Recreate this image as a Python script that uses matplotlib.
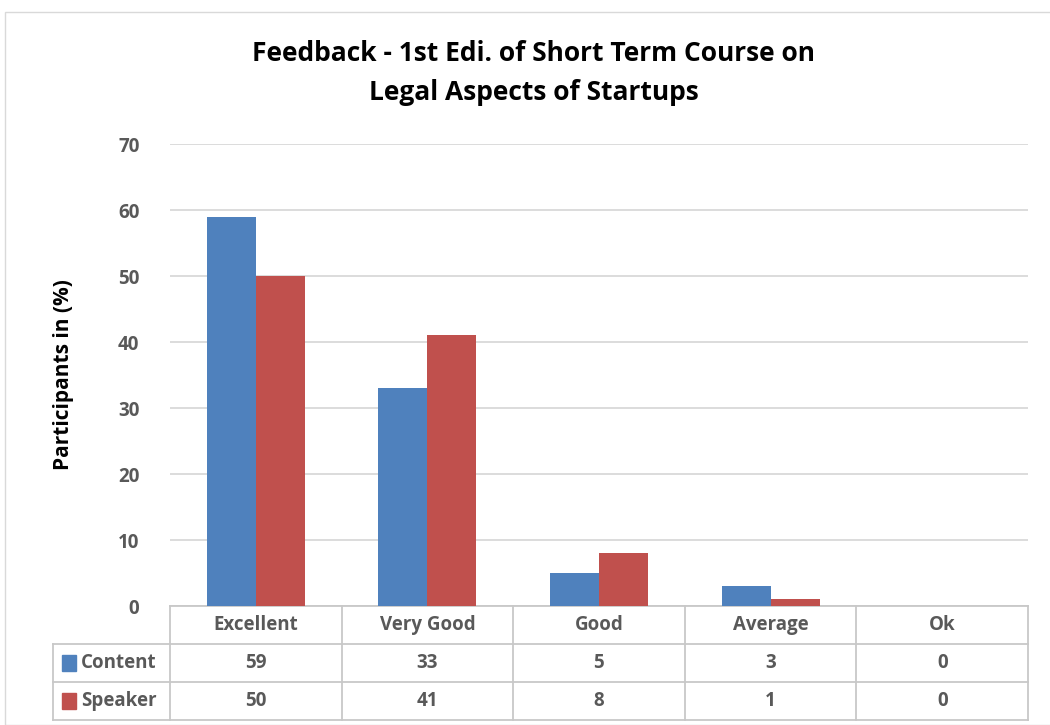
import numpy as np
import matplotlib.pyplot as plt
from matplotlib.patches import Rectangle

categories = ['Excellent', 'Very Good', 'Good', 'Average', 'Ok']
content = [59, 33, 5, 3, 0]
speaker = [50, 41, 8, 1, 0]
series_names = ['Content', 'Speaker']
yticks = [0, 10, 20, 30, 40, 50, 60, 70]

blue = '#4f81bd'
red = '#c0504d'
grid_c = '#d9d9d9'
text_c = '#595959'

plt.rcParams['font.family'] = ['Open Sans', 'DejaVu Sans']
plt.rcParams['font.weight'] = 'bold'

fig = plt.figure(figsize=(10.5, 7.25), dpi=100)
W, H = 1050, 725
ax = fig.add_axes([170 / W, 1 - 606 / H, (1028 - 170) / W, (606 - 144) / H])

x = np.arange(len(categories))
bw = 0.285
ax.bar(x - bw / 2, content, bw, color=blue, zorder=3)
ax.bar(x + bw / 2, speaker, bw, color=red, zorder=3)

ax.set_xlim(-0.5, len(categories) - 0.5)
ax.set_ylim(0, 70)
ax.set_yticks(yticks)
ax.set_yticklabels([str(t) for t in yticks], fontsize=13.5, color=text_c, fontweight='bold')
ax.tick_params(axis='y', length=0, pad=22)
ax.set_xticks([])
ax.yaxis.grid(True, color=grid_c, linewidth=1.3, zorder=0)
for s in ax.spines.values():
    s.set_visible(False)
ax.set_ylabel('Participants in (%)', fontsize=15, fontweight='bold', color='black', labelpad=32)

# data table under the axis
row_h = 38 / (606 - 144)
tbl_c = '#c8c8c8'
trans = ax.get_xaxis_transform()
n = len(categories)
label_left = -0.5 - (170 - 53) / 172
ax.plot([-0.5, n - 0.5], [0, 0], color=tbl_c, lw=1.3, transform=trans, clip_on=False)
for k in (1, 2, 3):
    ax.plot([label_left, n - 0.5], [-k * row_h] * 2, color=tbl_c, lw=1.3,
            transform=trans, clip_on=False)
for i in range(n + 1):
    ax.plot([i - 0.5] * 2, [0, -3 * row_h], color=tbl_c, lw=1.3, transform=trans, clip_on=False)
ax.plot([label_left] * 2, [-row_h, -3 * row_h], color=tbl_c, lw=1.3, transform=trans, clip_on=False)

for i, c in enumerate(categories):
    ax.text(i, -0.5 * row_h, c, transform=trans, ha='center', va='center',
            fontsize=13.5, color=text_c, fontweight='bold')
for r, (name, vals, col) in enumerate(zip(series_names, [content, speaker], [blue, red])):
    yc = -(1.5 + r) * row_h
    for i, v in enumerate(vals):
        ax.text(i, yc, str(v), transform=trans, ha='center', va='center',
                fontsize=13.5, color=text_c, fontweight='bold')
    ax.add_patch(Rectangle((label_left + 0.052, yc - 0.2 * row_h), 0.081, 0.4 * row_h,
                           transform=trans, color=col, clip_on=False))
    ax.text(label_left + 0.16, yc, name, transform=trans, ha='left', va='center',
            fontsize=13.5, color=text_c, fontweight='bold')

fig.text(534 / W, 1 - 73 / H, 'Feedback - 1st Edi. of Short Term Course on\nLegal Aspects of Startups',
         ha='center', va='center', fontsize=19, fontweight='bold', linespacing=1.6)

# chart border
fig.add_artist(Rectangle((5 / W, 0), 1.2, 1 - 12 / H, transform=fig.transFigure,
                         fill=False, edgecolor='#d9d9d9', lw=1))

fig.savefig('out.png', dpi=100)
